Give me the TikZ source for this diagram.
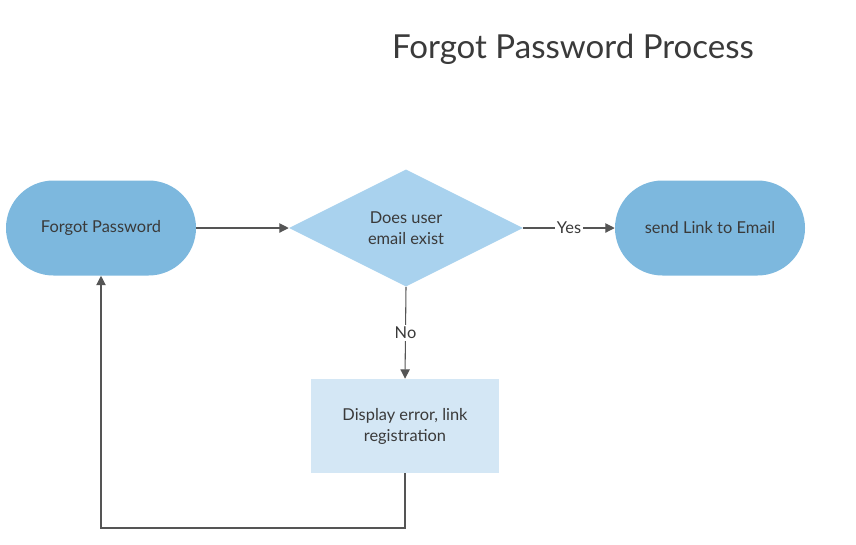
\documentclass[tikz,border=0pt]{standalone}
\usepackage{fontspec}
\setmainfont{Lato}
\usetikzlibrary{shapes.geometric,arrows.meta}
\definecolor{termblue}{RGB}{125,184,222}
\definecolor{decblue}{RGB}{169,210,238}
\definecolor{procblue}{RGB}{212,231,245}
\definecolor{inkgray}{RGB}{58,58,58}
\definecolor{linegray}{RGB}{85,85,85}
\tikzset{
  terminal/.style={draw=none, fill=termblue, rounded corners=35.6pt, minimum width=142.5pt, minimum height=71.25pt, inner sep=0pt, align=center},
  decision/.style={draw=none, fill=decblue, diamond, aspect=2, minimum width=175.5pt, minimum height=87.75pt, inner sep=0pt, align=center},
  process/.style={draw=none, fill=procblue, minimum width=141pt, minimum height=70.5pt, inner sep=0pt, align=center},
  flowline/.style={draw=linegray, line width=0.8pt, -{Triangle[length=7pt,width=7pt]}},
  flowlabel/.style={fill=white, inner sep=1.5pt, text=inkgray}
}
\begin{document}
\begin{tikzpicture}[x=0.75pt, y=-0.75pt]
			\tikzstyle{every node}=[font=\fontsize{12.3}{15.7}\selectfont, text=inkgray]
			\useasboundingbox (0,0) rectangle (856,544);
			% title
			\node [font=\fontsize{24.8}{30}\selectfont] (title) at (573,49) {Forgot Password Process};
			% shapes
			\node [terminal] (forgot) at (101,228) {Forgot Password};
			\node [decision] (exists) at (406,228) {Does user\\email exist};
			\node [terminal] (send) at (710,228) {send Link to Email};
			\node [process] (error) at (405,426) {Display error, link\\registration};
			% connectors
			\draw [flowline] (forgot.east) -- (exists.west);
			\draw [flowline] (exists.east) -- node [flowlabel] {Yes} (send.west);
			\draw [flowline] (exists.south) -- node [flowlabel] {No} (error.north);
			\coordinate (back) at (405,528);
			\draw [flowline] (error.south) -- (back) -| (forgot.south);
		\end{tikzpicture}
\end{document}
